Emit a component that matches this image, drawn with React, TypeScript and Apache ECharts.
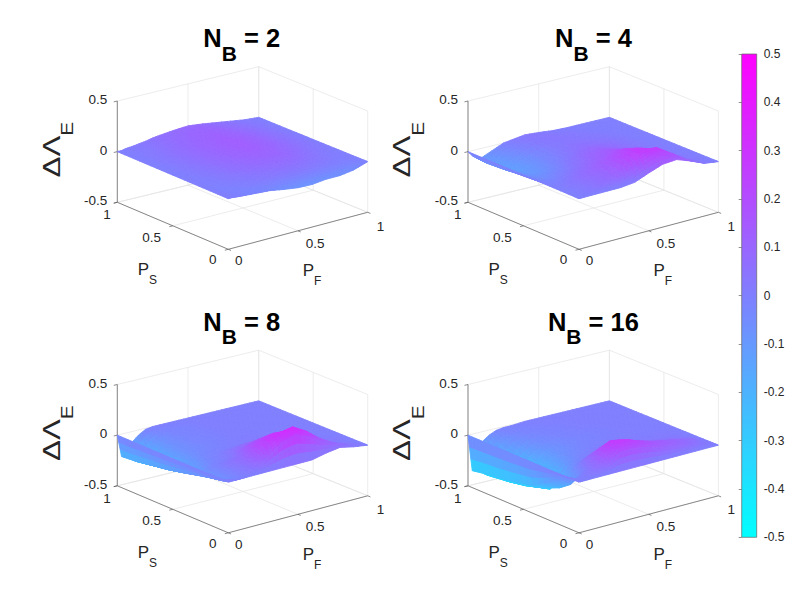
import React, { useEffect, useRef } from "react";
import * as echarts from "echarts";

const psGrid = [1, 0.9, 0.75, 0.6, 0.45, 0.3, 0.2, 0.1, 0.05, 0.02, 0];
const pfGrid = [0, 0.03, 0.06, 0.1, 0.15, 0.2, 0.25, 0.3, 0.4, 0.5, 0.6, 0.7, 0.8, 0.9, 1];

const surfaceN2 = [
  [0, 0, 0.01, 0.015, 0.025, 0.035, 0.05, 0.06, 0.075, 0.085, 0.07, 0.05, 0.03, 0.01, 0],
  [0, 0.005, 0.01, 0.02, 0.03, 0.045, 0.06, 0.07, 0.09, 0.1, 0.085, 0.06, 0.04, 0.02, 0],
  [0, 0.005, 0.01, 0.025, 0.04, 0.055, 0.07, 0.085, 0.105, 0.115, 0.1, 0.075, 0.05, 0.025, 0],
  [0, 0, 0.01, 0.02, 0.04, 0.055, 0.075, 0.09, 0.115, 0.125, 0.11, 0.085, 0.055, 0.03, 0],
  [0, 0, 0.005, 0.015, 0.03, 0.05, 0.07, 0.085, 0.11, 0.125, 0.11, 0.085, 0.055, 0.03, 0],
  [0, 0, 0, 0.005, 0.02, 0.03, 0.05, 0.065, 0.09, 0.1, 0.095, 0.07, 0.045, 0.02, 0],
  [0, 0, -0.005, 0, 0.005, 0.015, 0.03, 0.04, 0.06, 0.07, 0.07, 0.05, 0.03, 0.01, 0],
  [0, 0, -0.005, -0.01, -0.01, -0.005, 0.005, 0.01, 0.02, 0.03, 0.03, 0.02, 0.01, 0, 0],
  [0, 0, -0.005, -0.01, -0.015, -0.015, -0.015, -0.015, -0.015, -0.015, -0.01, -0.01, -0.015, -0.015, 0],
  [0, 0, -0.005, -0.01, -0.015, -0.02, -0.025, -0.03, -0.045, -0.05, -0.05, -0.05, -0.05, -0.04, 0],
  [0, 0, -0.005, -0.01, -0.015, -0.02, -0.025, -0.03, -0.055, -0.075, -0.08, -0.065, -0.065, -0.045, 0],
];

const surfaceN4 = [
  [0, -0.05, -0.08, -0.09, -0.06, -0.03, 0, 0.01, 0.03, 0.02, 0.005, 0, 0, 0, 0],
  [0, -0.06, -0.09, -0.11, -0.1, -0.06, -0.03, 0, 0.03, 0.03, 0.02, 0.01, 0, 0, 0],
  [0, -0.05, -0.08, -0.11, -0.12, -0.1, -0.07, -0.04, 0.01, 0.03, 0.03, 0.02, 0.01, 0, 0],
  [0, -0.04, -0.06, -0.08, -0.09, -0.08, -0.05, -0.02, 0.03, 0.06, 0.05, 0.04, 0.02, 0.005, 0],
  [0, -0.03, -0.04, -0.05, -0.04, -0.02, 0, 0.03, 0.08, 0.1, 0.08, 0.05, 0.02, 0.005, 0],
  [0, -0.01, -0.01, 0, 0.02, 0.04, 0.06, 0.08, 0.12, 0.16, 0.12, 0.06, 0.025, 0.005, 0],
  [0, 0, 0.01, 0.03, 0.05, 0.07, 0.09, 0.11, 0.17, 0.22, 0.18, 0.09, 0.04, 0.01, 0],
  [0, 0, 0.01, 0.02, 0.04, 0.06, 0.08, 0.1, 0.2, 0.27, 0.23, 0.13, 0.06, 0.015, 0],
  [0, 0, 0.01, 0.02, 0.04, 0.06, 0.08, 0.1, 0.17, 0.27, 0.26, 0.17, 0.07, 0.015, 0],
  [0, 0, 0.01, 0.02, 0.03, 0.04, 0.05, 0.07, 0.11, 0.2, 0.23, 0.17, 0.08, 0.02, 0],
  [0, 0, 0, 0, 0, 0, 0, 0, 0.015, 0.07, 0.12, 0.13, 0.08, 0.02, 0],
];

const surfaceN8 = [
  [0, -0.22, -0.18, -0.11, -0.05, -0.01, 0, 0, 0, 0, 0, 0, 0, 0, 0],
  [0, -0.21, -0.235, -0.26, -0.17, -0.08, -0.04, -0.02, -0.01, 0, 0, 0, 0, 0, 0],
  [0, -0.185, -0.205, -0.235, -0.13, -0.07, -0.05, -0.03, -0.01, 0, 0, 0, 0, 0, 0],
  [0, -0.16, -0.18, -0.205, -0.11, -0.06, -0.04, -0.03, -0.01, 0, 0, 0, 0, 0, 0],
  [0, -0.125, -0.14, -0.165, -0.07, -0.03, -0.02, -0.01, 0, 0.01, 0.01, 0, 0, 0, 0],
  [0, -0.085, -0.1, -0.03, -0.01, 0, 0.02, 0.06, 0.11, 0.1, 0.06, 0.03, 0.01, 0, 0],
  [0, -0.06, -0.08, -0.04, 0.02, 0.05, 0.07, 0.15, 0.2, 0.17, 0.11, 0.06, 0.03, 0.01, 0],
  [0, -0.04, -0.06, -0.03, 0.01, 0.05, 0.13, 0.22, 0.29, 0.27, 0.19, 0.1, 0.05, 0.015, 0],
  [0, -0.01, -0.03, -0.02, 0.01, 0.04, 0.1, 0.2, 0.31, 0.34, 0.26, 0.15, 0.07, 0.02, 0],
  [0, 0, -0.01, -0.01, 0, 0.03, 0.07, 0.13, 0.24, 0.28, 0.22, 0.13, 0.08, 0.03, 0],
  [0, 0, 0, 0, 0, 0, 0, 0, 0, 0, 0, 0.03, 0.05, 0.02, 0],
];

const surfaceN16 = [
  [0, -0.36, -0.2, -0.1, -0.05, -0.02, -0.01, -0.01, 0, 0, 0, 0, 0, 0, 0],
  [0, -0.34, -0.37, -0.2, -0.1, -0.06, -0.03, -0.02, -0.01, 0, 0, 0, 0, 0, 0],
  [0, -0.32, -0.35, -0.38, -0.2, -0.12, -0.08, -0.05, -0.02, -0.01, 0, 0, 0, 0, 0],
  [0, -0.29, -0.32, -0.35, -0.37, -0.2, -0.13, -0.08, -0.04, -0.02, -0.01, 0, 0, 0, 0],
  [0, -0.25, -0.28, -0.3, -0.33, -0.16, -0.09, -0.05, -0.02, -0.01, 0, 0, 0, 0, 0],
  [0, -0.15, -0.2, -0.23, -0.12, -0.05, -0.02, 0, 0.02, 0.02, 0.02, 0.01, 0.01, 0.01, 0],
  [0, -0.05, -0.11, -0.15, -0.03, 0.05, 0.1, 0.11, 0.1, 0.09, 0.07, 0.05, 0.04, 0.02, 0],
  [0, -0.02, -0.04, 0, 0.03, 0.1, 0.22, 0.25, 0.22, 0.18, 0.14, 0.11, 0.08, 0.05, 0],
  [0, 0, 0, 0.02, 0.05, 0.1, 0.2, 0.28, 0.25, 0.19, 0.14, 0.11, 0.08, 0.04, 0],
  [0, 0, 0, 0.01, 0.03, 0.06, 0.11, 0.17, 0.18, 0.15, 0.11, 0.09, 0.07, 0.03, 0],
  [0, 0, 0, 0, 0, 0, 0, 0, 0, 0, 0, 0, 0, 0, 0],
];

const panelTitles = ["2", "4", "8", "16"];
const panelSurfaces = [surfaceN2, surfaceN4, surfaceN8, surfaceN16];
const zTicks = [-0.5, 0, 0.5];
const psTicks = [0, 0.5, 1];
const pfTicks = [0, 0.5, 1];
const colorbarRange = [-0.5, 0.5];

const FONT = "'Liberation Sans', Arial, sans-serif";
const TEXT = "#262626";
const GRID_LINE = "#e4e4e4";
const AXIS_LINE = "#5a5a5a";
const DX = 350.7;
const DY = 283.5;
const VIEW_W = 251;
const VIEW_H = 184;
const SUB = 3;

const toView = (p: number, f: number, z: number): number[] => [
  111 + 139.4 * f - 111 * p + 2 * f * p,
  183.3 - 37 * f - 47 * p + 2.7 * f * p - (z + 0.5) * 101.3,
];

const cool = (z: number): string => {
  const t = Math.max(0, Math.min(1, z + 0.5));
  return `rgb(${Math.round(255 * t)},${Math.round(255 * (1 - t))},255)`;
};

function surfaceRenderer(table: number[][]) {
  return (params: any, api: any) => {
    const r = api.value(0);
    const c = api.value(1);
    const at = (a: number, b: number) => {
      const p = psGrid[r] + (psGrid[r + 1] - psGrid[r]) * a;
      const f = pfGrid[c] + (pfGrid[c + 1] - pfGrid[c]) * b;
      const z =
        table[r][c] * (1 - a) * (1 - b) +
        table[r][c + 1] * (1 - a) * b +
        table[r + 1][c] * a * (1 - b) +
        table[r + 1][c + 1] * a * b;
      return { pt: api.coord(toView(p, f, z)), z };
    };
    const children: any[] = [];
    for (let i = 0; i < SUB; i++) {
      for (let j = SUB - 1; j >= 0; j--) {
        const q = [
          at(i / SUB, j / SUB),
          at(i / SUB, (j + 1) / SUB),
          at((i + 1) / SUB, (j + 1) / SUB),
          at((i + 1) / SUB, j / SUB),
        ];
        const col = cool((q[0].z + q[1].z + q[2].z + q[3].z) / 4);
        children.push({
          type: "polygon",
          shape: { points: q.map((o) => o.pt) },
          style: { fill: col, stroke: col, lineWidth: 0.9 },
        });
      }
    }
    return { type: "group", children };
  };
}

const subRich = (big: number, small: number, drop: number, weight: string) => {
  const ink = weight === "bold" ? "#000" : TEXT;
  return {
    a: { fontSize: big, lineHeight: big + drop, fontWeight: weight, fontFamily: FONT, fill: ink, color: ink, verticalAlign: "top", padding: [0, 0, drop, 0] },
    b: { fontSize: small, lineHeight: small, fontWeight: weight, fontFamily: FONT, fill: ink, color: ink, verticalAlign: "bottom" },
  };
};

function frameRenderer() {
  return (params: any, api: any) => {
    const P = (p: number, f: number, z: number) => api.coord(toView(p, f, z));
    const kids: any[] = [];
    const line = (a: number[], b: number[], stroke: string, w = 0.7) =>
      kids.push({ type: "line", shape: { x1: a[0], y1: a[1], x2: b[0], y2: b[1] }, style: { stroke, lineWidth: w } });
    const label = (pt: number[], text: string, align: string, dx: number, dy: number) =>
      kids.push({
        type: "text",
        style: { x: pt[0] + dx, y: pt[1] + dy, text, fill: TEXT, fontSize: 13.5, fontFamily: FONT, align, verticalAlign: "middle" },
      });
    // back walls and floor
    for (const z of zTicks) {
      line(P(1, 0, z), P(1, 1, z), GRID_LINE);
      line(P(1, 1, z), P(0, 1, z), GRID_LINE);
    }
    for (const f of pfTicks) {
      line(P(1, f, -0.5), P(1, f, 0.5), GRID_LINE);
      line(P(0, f, -0.5), P(1, f, -0.5), GRID_LINE);
    }
    for (const p of psTicks) {
      line(P(p, 1, -0.5), P(p, 1, 0.5), GRID_LINE);
      line(P(p, 0, -0.5), P(p, 1, -0.5), GRID_LINE);
    }
    // near axes
    line(P(1, 0, -0.5), P(1, 0, 0.5), AXIS_LINE);
    line(P(1, 0, -0.5), P(0, 0, -0.5), AXIS_LINE);
    line(P(0, 0, -0.5), P(0, 1, -0.5), AXIS_LINE);
    for (const z of zTicks) {
      line(P(1, 0, z), P(1, -0.025, z), AXIS_LINE);
      label(P(1, 0, z), String(z), "right", -10, -1.5);
    }
    for (const p of psTicks) {
      line(P(p, 0, -0.5), P(p, -0.025, -0.5), AXIS_LINE);
      label(P(p, 0, -0.5), String(p), "right", p === 1 ? -6.6 : -11.7, 10.4 + 1.9 * p);
    }
    for (const f of pfTicks) {
      line(P(0, f, -0.5), P(-0.025, f, -0.5), AXIS_LINE);
      label(P(0, f, -0.5), String(f), "left", 6.7 + 2.3 * f, 11.4 + 2.3 * f);
    }
    // axis titles
    const ps = P(0.5, 0, -0.5);
    kids.push({
      type: "text",
      style: { x: ps[0] - 35.1, y: ps[1] + 34.7, text: "{a|P}{b|S}", align: "left", verticalAlign: "top", rich: subRich(17, 12, 8, "normal") },
    });
    const pf = P(0, 0.5, -0.5);
    kids.push({
      type: "text",
      style: { x: pf[0] + 4.7, y: pf[1] + 31.4, text: "{a|P}{b|F}", align: "left", verticalAlign: "top", rich: subRich(17, 12, 8, "normal") },
    });
    const zm = P(1, 0, 0);
    kids.push({
      type: "text",
      x: zm[0] - 77.8,
      y: zm[1] - 2,
      rotation: Math.PI / 2,
      scaleX: 1.3,
      style: { x: 0, y: 0, text: "{a|ΔΛ}{b|E}", align: "center", verticalAlign: "top", rich: subRich(24, 16, 12, "normal") },
    });
    return { type: "group", children: kids };
  };
}

function buildOption() {
  const grid: any[] = [];
  const xAxis: any[] = [];
  const yAxis: any[] = [];
  const series: any[] = [];
  const title: any[] = [];
  panelSurfaces.forEach((table, k) => {
    const ox = k % 2 === 1 ? DX : 0;
    const oy = k >= 2 ? DY : 0;
    grid.push({ left: 117.3 + ox, top: 66 + oy, width: VIEW_W, height: VIEW_H });
    xAxis.push({ gridIndex: k, type: "value", min: 0, max: VIEW_W, show: false });
    yAxis.push({ gridIndex: k, type: "value", min: 0, max: VIEW_H, inverse: true, show: false });
    series.push({
      type: "custom",
      xAxisIndex: k,
      yAxisIndex: k,
      silent: true,
      clip: false,
      z: 1,
      data: [[0, 0]],
      renderItem: frameRenderer(),
    });
    const cells: number[][] = [];
    for (let r = 0; r < psGrid.length - 1; r++) {
      for (let c = pfGrid.length - 2; c >= 0; c--) cells.push([r, c]);
    }
    series.push({
      type: "custom",
      xAxisIndex: k,
      yAxisIndex: k,
      silent: true,
      clip: false,
      z: 2,
      progressive: 0,
      data: cells,
      renderItem: surfaceRenderer(table),
    });
    title.push({
      text: `{a|N}{b|B}{a| = ${panelTitles[k]}}`,
      left: 241.7 + ox + (k % 2 === 1 ? 1 : 0),
      top: 25 + oy,
      textAlign: "center",
      padding: 0,
      textStyle: { rich: subRich(25.5, 21, 13, "bold") },
    });
  });
  const cb = panelSurfaces.length;
  grid.push({ left: 741.7, top: 54, width: 15, height: 483.3 });
  xAxis.push({ gridIndex: cb, type: "value", min: 0, max: 1, show: false });
  yAxis.push({
    gridIndex: cb,
    type: "value",
    min: colorbarRange[0],
    max: colorbarRange[1],
    interval: 0.1,
    position: "right",
    splitLine: { show: false },
    axisLine: { show: false },
    axisTick: { show: true, inside: true, length: 3, lineStyle: { color: "#444", width: 0.6 } },
    axisLabel: { margin: 7, fontSize: 12, color: TEXT, fontFamily: FONT },
  });
  series.push({
    type: "custom",
    xAxisIndex: cb,
    yAxisIndex: cb,
    silent: true,
    z: 1,
    data: [[0, colorbarRange[1], 1, colorbarRange[0]]],
    renderItem: (params: any, api: any) => {
      const a = api.coord([api.value(0), api.value(1)]);
      const b = api.coord([api.value(2), api.value(3)]);
      return {
        type: "rect",
        shape: { x: a[0], y: a[1], width: b[0] - a[0], height: b[1] - a[1] },
        style: {
          fill: new echarts.graphic.LinearGradient(0, 0, 0, 1, [
            { offset: 0, color: cool(colorbarRange[1]) },
            { offset: 1, color: cool(colorbarRange[0]) },
          ]),
          stroke: "#666",
          lineWidth: 0.7,
        },
      };
    },
  });
  return { animation: false, backgroundColor: "#fff", title, grid, xAxis, yAxis, series };
}

export default function App() {
  const ref = useRef<HTMLDivElement>(null);
  useEffect(() => {
    const chart = echarts.init(ref.current!, undefined, { renderer: "svg" });
    chart.setOption(buildOption() as any);
    return () => chart.dispose();
  }, []);
  return <div ref={ref} style={{ position: "fixed", left: 0, top: 0, width: 797, height: 598 }} />;
}
